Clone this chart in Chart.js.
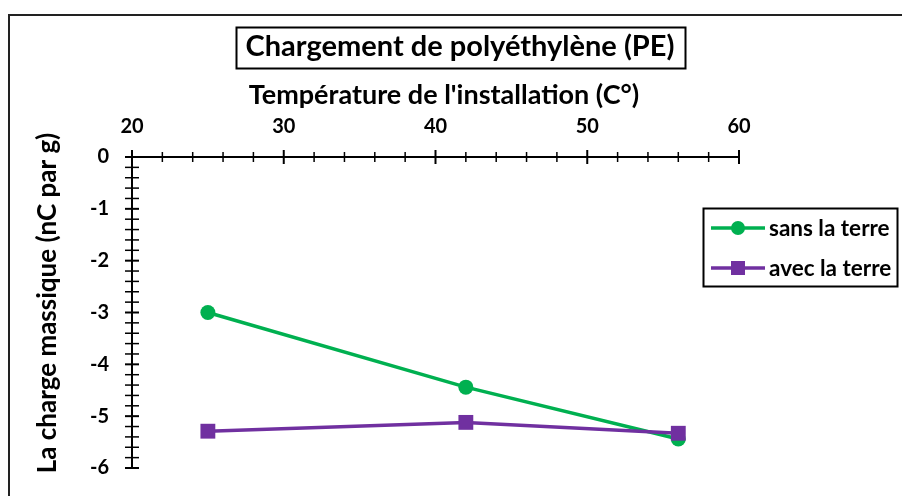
<!DOCTYPE html>
<html>
<head>
<meta charset="utf-8">
<script src="https://cdn.jsdelivr.net/npm/chart.js@4"></script>
<style>
  html, body { margin: 0; padding: 0; background: #fff; }
  #wrap { width: 902px; height: 496px; }
</style>
</head>
<body>
<div id="wrap"><canvas id="chargeChart" width="902" height="496"></canvas></div>
<script>
// Température de l'installation (°C)
const temperatures = [25, 42, 56];
// Charge massique (nC/g)
const sansTerre = [-3.0, -4.44, -5.44];
const avecTerre = [-5.29, -5.12, -5.33];
// axis tick labels
const xTickLabels = [20, 30, 40, 50, 60];
const yTickLabels = [0, -1, -2, -3, -4, -5, -6];

const GREEN = '#00B050';
const PURPLE = '#7030A0';
const FONT = 'Lato, "Open Sans", sans-serif';

function toPoints(values) {
    return temperatures.map((t, i) => ({ x: t, y: values[i] }));
}

function isLabelled(list, v) {
    return list.some(l => Math.abs(l - v) < 1e-6);
}

// ticks crossing the axis lines, axis titles, title box, legend box and outer frame
const decorations = {
    id: 'decorations',
    afterDraw(chart) {
        const ctx = chart.ctx;
        const xs = chart.scales.x;
        const ys = chart.scales.y;
        const axisY = ys.getPixelForValue(0);
        const axisX = xs.getPixelForValue(20);
        ctx.save();
        ctx.strokeStyle = '#000';

        // x ticks
        xs.ticks.forEach(t => {
            const px = xs.getPixelForValue(t.value);
            const major = isLabelled(xTickLabels, t.value);
            const len = major ? 7 : 5;
            ctx.lineWidth = major ? 2 : 1.5;
            ctx.beginPath();
            ctx.moveTo(px, axisY - len);
            ctx.lineTo(px, axisY + len);
            ctx.stroke();
        });
        // y ticks
        ys.ticks.forEach(t => {
            const py = ys.getPixelForValue(t.value);
            const major = isLabelled(yTickLabels, t.value);
            const len = 7;
            ctx.lineWidth = major ? 2 : 1.5;
            ctx.beginPath();
            ctx.moveTo(axisX - len, py);
            ctx.lineTo(axisX + len, py);
            ctx.stroke();
        });

        // axis titles
        ctx.fillStyle = '#000';
        ctx.textAlign = 'center';
        ctx.textBaseline = 'middle';
        ctx.font = 'bold 27px ' + FONT;
        ctx.fillText("Température de l'installation (C°)", 444, 95);
        ctx.save();
        ctx.translate(48, 303);
        ctx.rotate(-Math.PI / 2);
        ctx.font = 'bold 26px ' + FONT;
        ctx.fillText('La charge massique (nC par g)', 0, 0);
        ctx.restore();

        // outer frame (left and top edges)
        ctx.lineWidth = 2;
        ctx.strokeStyle = '#222';
        ctx.beginPath();
        ctx.moveTo(9, 496);
        ctx.lineTo(9, 15);
        ctx.lineTo(902, 15);
        ctx.stroke();

        // boxed title
        ctx.fillStyle = '#000';
        ctx.font = 'bold 29px ' + FONT;
        const title = 'Chargement de polyéthylène (PE)';
        const tw = ctx.measureText(title).width;
        const cx = 460, cy = 47;
        ctx.fillText(title, cx, cy);
        ctx.lineWidth = 2;
        ctx.strokeStyle = '#000';
        ctx.strokeRect(Math.round(cx - tw / 2 - 10) + 0.5, 27.5, Math.round(tw + 20), 41);

        // legend
        const lx = 703, ly = 208, lw = 194, lh = 78;
        ctx.fillStyle = '#fff';
        ctx.fillRect(lx, ly, lw, lh);
        ctx.strokeRect(lx + 0.5, ly + 0.5, lw, lh);
        chart.data.datasets.forEach((ds, i) => {
            const y = ly + 20 + i * 40;
            ctx.strokeStyle = ds.borderColor;
            ctx.lineWidth = 3.5;
            ctx.beginPath();
            ctx.moveTo(lx + 8, y);
            ctx.lineTo(lx + 62, y);
            ctx.stroke();
            ctx.fillStyle = ds.backgroundColor;
            if (ds.pointStyle === 'rect') {
                ctx.fillRect(lx + 35 - 7, y - 7, 14, 14);
            } else {
                ctx.beginPath();
                ctx.arc(lx + 35, y, 7, 0, Math.PI * 2);
                ctx.fill();
            }
            ctx.fillStyle = '#000';
            ctx.font = 'bold 22.5px ' + FONT;
            ctx.textAlign = 'left';
            ctx.fillText(ds.label, lx + 66, y + 1);
        });
        ctx.restore();
    }
};

const ctx = document.getElementById('chargeChart').getContext('2d');
const chart = new Chart(ctx, {
    type: 'line',
    data: {
        datasets: [{
            label: 'sans la terre',
            data: toPoints(sansTerre),
            borderColor: GREEN,
            backgroundColor: GREEN,
            borderWidth: 3.5,
            pointStyle: 'circle',
            pointRadius: 7.5,
            pointHoverRadius: 7.5,
            pointBorderWidth: 0,
            order: 2
        }, {
            label: 'avec la terre',
            data: toPoints(avecTerre),
            borderColor: PURPLE,
            backgroundColor: PURPLE,
            borderWidth: 3.5,
            pointStyle: 'rect',
            pointRadius: 10.5,
            pointHoverRadius: 10.5,
            pointBorderWidth: 0,
            order: 1
        }]
    },
    options: {
        responsive: false,
        animation: false,
        layout: { padding: { left: 0, top: 0, right: 163, bottom: 28 } },
        plugins: {
            legend: { display: false },
            tooltip: { enabled: false }
        },
        scales: {
            x: {
                type: 'linear',
                position: 'top',
                min: 20,
                max: 60,
                afterFit(scale) { scale.height = 157; },
                grid: { display: false, drawTicks: false },
                border: { display: true, color: '#000', width: 2 },
                ticks: {
                    stepSize: 2,
                    autoSkip: false,
                    maxRotation: 0,
                    padding: 18,
                    color: '#000',
                    font: { family: FONT, size: 20, weight: 'bold' },
                    callback: v => isLabelled(xTickLabels, v) ? String(Math.round(v)) : ''
                }
            },
            y: {
                type: 'linear',
                min: -6,
                max: 0,
                afterFit(scale) {
                    scale.width = 132;
                    scale.paddingBottom = 0;
                },
                grid: { display: false, drawTicks: false },
                border: { display: true, color: '#000', width: 2 },
                ticks: {
                    stepSize: 0.2,
                    autoSkip: false,
                    padding: 23,
                    color: '#000',
                    font: { family: FONT, size: 20, weight: 'bold' },
                    callback: v => isLabelled(yTickLabels, v) ? String(Math.round(v)) : ''
                }
            }
        }
    },
    plugins: [decorations]
});
</script>
</body>
</html>
